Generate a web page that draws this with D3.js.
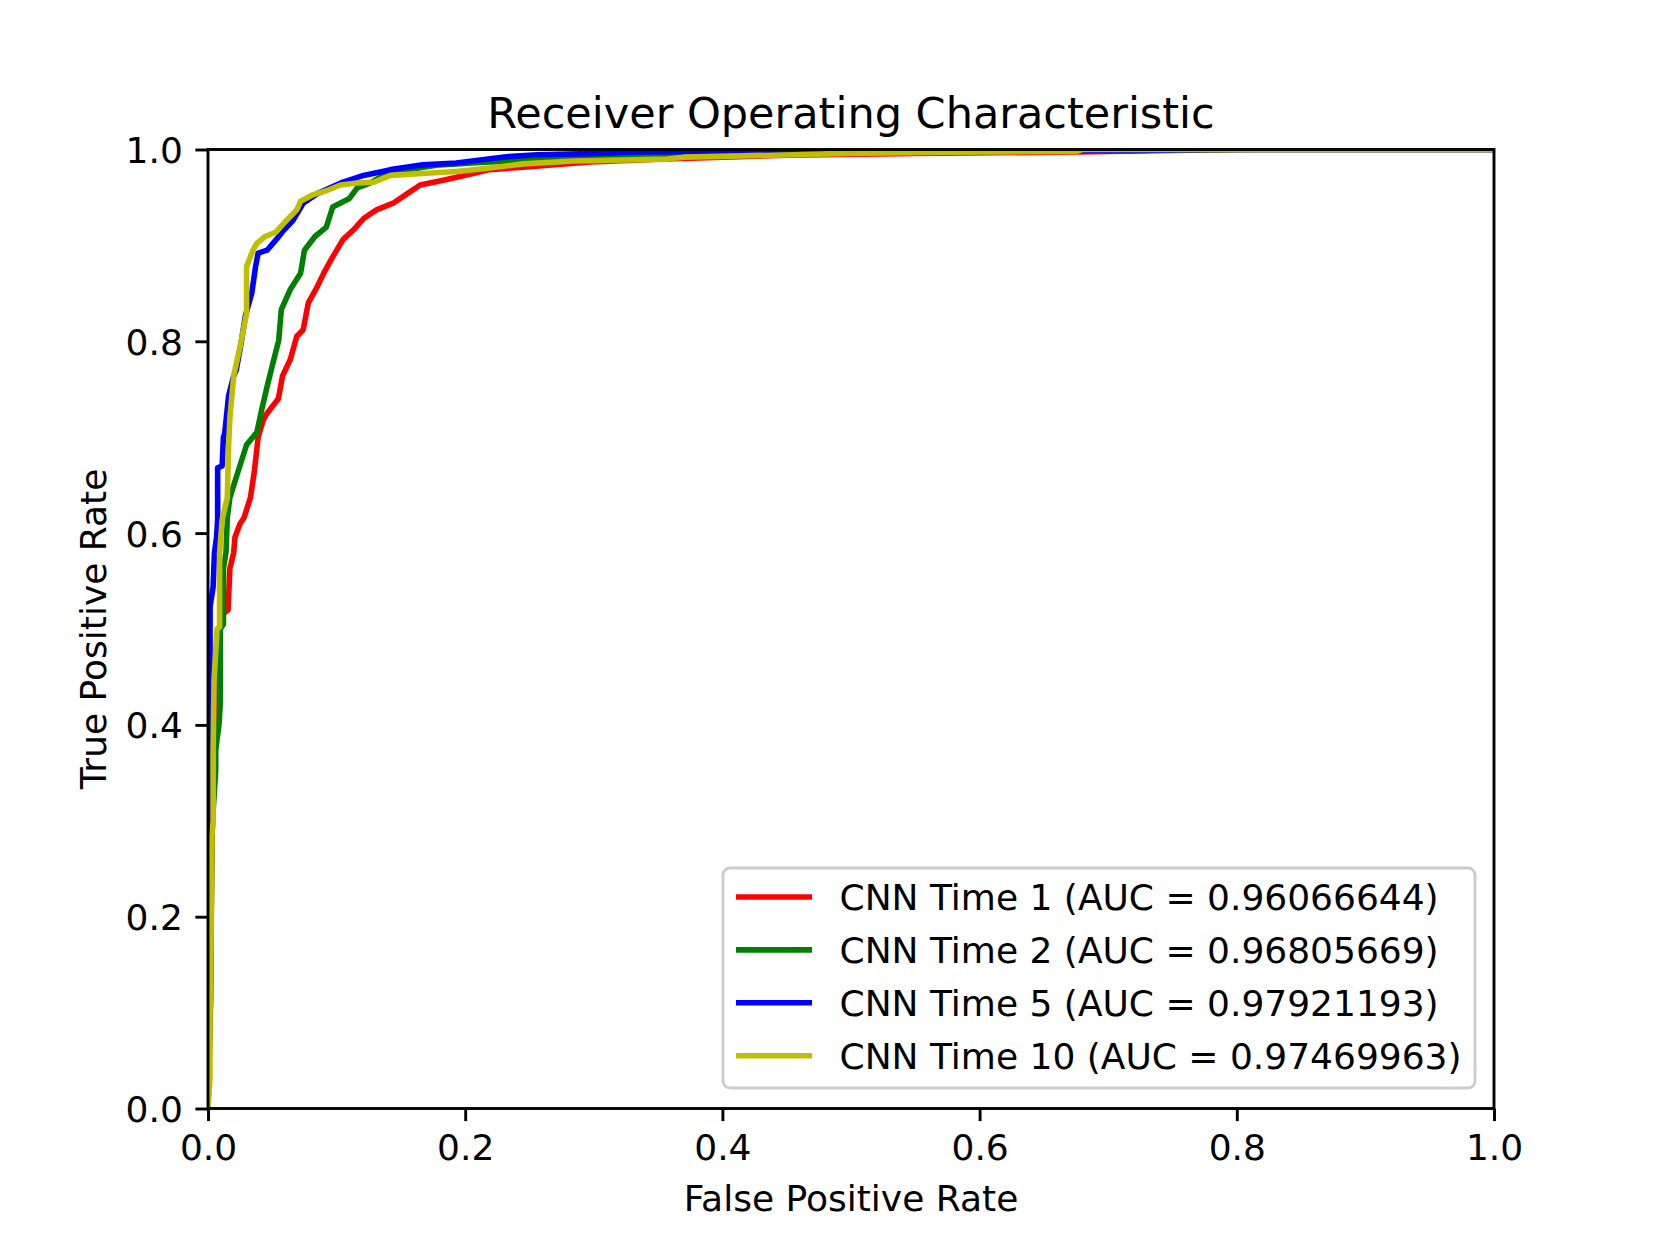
<!DOCTYPE html>
<html>
<head>
<meta charset="utf-8">
<script src="https://cdn.jsdelivr.net/npm/d3@7"></script>
<style>
  body { margin: 0; background: #fff; }
  text { font-family: "DejaVu Sans", sans-serif; fill: #000; }
</style>
</head>
<body>
<script>
// Data
const labels = [
  "CNN Time 1 (AUC = 0.96066644)",
  "CNN Time 2 (AUC = 0.96805669)",
  "CNN Time 5 (AUC = 0.97921193)",
  "CNN Time 10 (AUC = 0.97469963)"
];
const colors = ["#ff0000", "#008000", "#0000ff", "#bfbf00"];

const fprTime1 = [0, 0.002, 0.003, 0.0045, 0.008, 0.0095, 0.011, 0.0156, 0.017, 0.020, 0.021, 0.025, 0.028, 0.033, 0.036, 0.039, 0.043, 0.046, 0.0547, 0.058, 0.064, 0.069, 0.074, 0.078, 0.085, 0.090, 0.097, 0.105, 0.113, 0.121, 0.131, 0.144, 0.155, 0.165, 0.183, 0.206, 0.219, 0.25, 0.297, 0.35, 0.45, 0.55, 0.65, 0.8, 1];
const tprTime1 = [0, 0.11, 0.28, 0.36, 0.42, 0.50, 0.515, 0.52, 0.563, 0.58, 0.596, 0.61, 0.616, 0.637, 0.664, 0.70, 0.718, 0.725, 0.74, 0.764, 0.781, 0.805, 0.812, 0.84, 0.857, 0.871, 0.888, 0.906, 0.916, 0.928, 0.937, 0.944, 0.954, 0.963, 0.968, 0.975, 0.979, 0.982, 0.987, 0.99, 0.994, 0.996, 0.997, 1, 1];

const fprTime2 = [0, 0.002, 0.003, 0.004, 0.006, 0.006, 0.0085, 0.0096, 0.0096, 0.012, 0.012, 0.014, 0.015, 0.017, 0.025, 0.030, 0.038, 0.042, 0.046, 0.051, 0.055, 0.057, 0.064, 0.072, 0.075, 0.083, 0.092, 0.097, 0.110, 0.116, 0.126, 0.136, 0.155, 0.18, 0.219, 0.271, 0.32, 0.39, 0.6, 0.81, 1];
const tprTime2 = [0, 0.12, 0.28, 0.31, 0.353, 0.374, 0.40, 0.423, 0.5, 0.505, 0.563, 0.58, 0.616, 0.637, 0.671, 0.692, 0.705, 0.73, 0.753, 0.78, 0.801, 0.833, 0.854, 0.871, 0.895, 0.909, 0.919, 0.94, 0.949, 0.96, 0.965, 0.973, 0.979, 0.984, 0.987, 0.99, 0.993, 0.997, 0.998, 1, 1];

const fprTime5 = [0, 0.001, 0.0013, 0.0016, 0.0016, 0.004, 0.005, 0.0067, 0.0075, 0.0075, 0.011, 0.012, 0.013, 0.016, 0.020, 0.022, 0.026, 0.029, 0.034, 0.037, 0.039, 0.046, 0.053, 0.059, 0.066, 0.074, 0.085, 0.105, 0.121, 0.142, 0.167, 0.193, 0.232, 0.256, 0.305, 0.33, 0.46, 0.72, 0.78, 1];
const tprTime5 = [0, 0.11, 0.30, 0.40, 0.523, 0.544, 0.579, 0.596, 0.614, 0.668, 0.67, 0.70, 0.704, 0.743, 0.764, 0.77, 0.80, 0.826, 0.85, 0.878, 0.892, 0.895, 0.906, 0.916, 0.926, 0.944, 0.954, 0.966, 0.973, 0.979, 0.984, 0.986, 0.9925, 0.9945, 0.996, 0.9975, 0.998, 0.999, 1, 1];

const fprTime10 = [0, 0.0015, 0.0015, 0.002, 0.003, 0.004, 0.004, 0.0047, 0.007, 0.009, 0.009, 0.011, 0.015, 0.016, 0.017, 0.020, 0.025, 0.030, 0.030, 0.035, 0.038, 0.044, 0.053, 0.061, 0.069, 0.072, 0.082, 0.092, 0.103, 0.116, 0.129, 0.142, 0.167, 0.193, 0.214, 0.245, 0.284, 0.357, 0.37, 0.455, 0.497, 0.556, 0.675, 0.68, 1];
const tprTime10 = [0, 0.03, 0.10, 0.11, 0.283, 0.30, 0.374, 0.447, 0.50, 0.502, 0.579, 0.614, 0.637, 0.69, 0.72, 0.764, 0.795, 0.829, 0.878, 0.895, 0.902, 0.909, 0.914, 0.926, 0.937, 0.946, 0.953, 0.957, 0.963, 0.965, 0.966, 0.973, 0.975, 0.977, 0.98, 0.985, 0.988, 0.99, 0.992, 0.9945, 0.996, 0.997, 0.998, 1, 1];

const xTicks = [0, 0.2, 0.4, 0.6, 0.8, 1.0];
const yTicks = [0, 0.2, 0.4, 0.6, 0.8, 1.0];

// Canvas setup
const canvasWidth = 1660;
const canvasHeight = 1245;
const margins = { top: 149.5, bottom: 136.5, left: 208, right: 166 };
const plotWidth = canvasWidth - margins.left - margins.right;
const plotHeight = canvasHeight - margins.top - margins.bottom;

const tickLen = 12.6;
const tickPad = 12.6;
const spineW = 2.9;
const lineW = 5.6;

const svg = d3.select('body')
    .append('svg')
    .attr('width', canvasWidth)
    .attr('height', canvasHeight)
    .style('background', '#fff');

const xScale = d3.scaleLinear().domain([0, 1]).range([0, plotWidth]);
const yScale = d3.scaleLinear().domain([0, 1]).range([plotHeight, 0]);

const plot = svg.append('g')
    .attr('transform', `translate(${margins.left},${margins.top})`);

svg.append('defs').append('clipPath')
    .attr('id', 'axclip')
    .append('rect')
    .attr('width', plotWidth)
    .attr('height', plotHeight);

// curves, drawn in order so yellow ends on top
const series = [
  { fpr: fprTime1, tpr: tprTime1 },
  { fpr: fprTime2, tpr: tprTime2 },
  { fpr: fprTime5, tpr: tprTime5 },
  { fpr: fprTime10, tpr: tprTime10 }
];

const lineFn = d3.line()
    .x(d => xScale(d[0]))
    .y(d => yScale(d[1]));

const curves = plot.append('g').attr('clip-path', 'url(#axclip)');
series.forEach((s, i) => {
  const pts = s.fpr.map((f, j) => [f, s.tpr[j]]);
  curves.append('path')
    .attr('d', lineFn(pts))
    .attr('fill', 'none')
    .attr('stroke', colors[i])
    .attr('stroke-width', lineW)
    .attr('stroke-linejoin', 'round')
    .attr('stroke-linecap', 'square');
});

// axes
const xAxis = plot.append('g')
    .attr('transform', `translate(0,${plotHeight})`)
    .call(d3.axisBottom(xScale).tickValues(xTicks).tickFormat(d3.format('.1f'))
      .tickSize(tickLen).tickPadding(tickPad));
const yAxis = plot.append('g')
    .call(d3.axisLeft(yScale).tickValues(yTicks).tickFormat(d3.format('.1f'))
      .tickSize(tickLen).tickPadding(tickPad));

[xAxis, yAxis].forEach(ax => {
  ax.select('.domain').remove();
  ax.selectAll('line').attr('stroke', '#000').attr('stroke-width', spineW);
  ax.selectAll('text')
    .style('font-family', '"DejaVu Sans", sans-serif')
    .style('font-size', '36px')
    .attr('fill', '#000');
});
xAxis.selectAll('text').attr('dy', '0.74em');
yAxis.selectAll('text').attr('dy', '0.36em');

// spines
plot.append('rect')
    .attr('width', plotWidth)
    .attr('height', plotHeight)
    .attr('fill', 'none')
    .attr('stroke', '#000')
    .attr('stroke-width', spineW);

// title and labels
svg.append('text')
    .attr('x', margins.left + plotWidth / 2)
    .attr('y', 128)
    .attr('text-anchor', 'middle')
    .style('font-size', '43px')
    .text('Receiver Operating Characteristic');

svg.append('text')
    .attr('x', margins.left + plotWidth / 2)
    .attr('y', 1211)
    .attr('text-anchor', 'middle')
    .style('font-size', '36px')
    .text('False Positive Rate');

svg.append('text')
    .attr('transform', `translate(106,${margins.top + plotHeight / 2}) rotate(-90)`)
    .attr('text-anchor', 'middle')
    .style('font-size', '36px')
    .text('True Positive Rate');

// legend
const legend = svg.append('g').attr('transform', 'translate(723,868)');
legend.append('rect')
    .attr('width', 752)
    .attr('height', 220)
    .attr('rx', 7)
    .attr('fill', '#fff')
    .attr('fill-opacity', 0.8)
    .attr('stroke', '#cccccc')
    .attr('stroke-width', 2.9);

labels.forEach((lab, i) => {
  const cy = 29 + i * 52.9;
  legend.append('line')
    .attr('x1', 13).attr('x2', 89)
    .attr('y1', cy).attr('y2', cy)
    .attr('stroke', colors[i])
    .attr('stroke-width', lineW);
  legend.append('text')
    .attr('x', 116.5)
    .attr('y', cy + 13)
    .style('font-size', '36px')
    .text(lab);
});
</script>
</body>
</html>
